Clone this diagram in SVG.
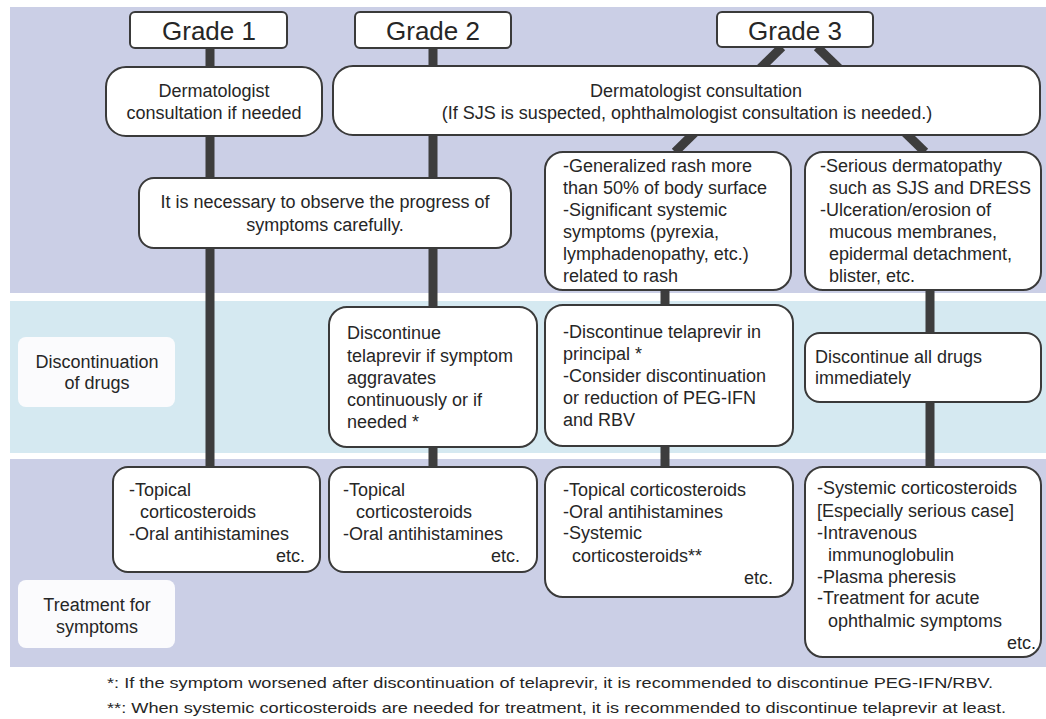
<svg xmlns="http://www.w3.org/2000/svg" width="1046" height="719" viewBox="0 0 1046 719">
<style>
text{font-family:"Liberation Sans",Arial,sans-serif;fill:#262626;font-size:18px}
.g{font-size:26px;text-anchor:middle}
.c{text-anchor:middle}
.r{text-anchor:end}
.fn{font-size:15px}
.box{fill:#fff;stroke:#3a3a3a;stroke-width:2}
.lbl{fill:#fbfbfd;stroke:none}
.con{stroke:#3d3d3d;stroke-width:9;fill:none}
</style>
<rect width="1046" height="719" fill="#fff"/>
<g id="bands">
<rect x="10" y="7" width="1036" height="286" fill="#cbcfe6"/>
<rect x="10" y="301" width="1036" height="152" fill="#d5e9f1"/>
<rect x="10" y="459" width="1036" height="208" fill="#cbcfe6"/>
</g>
<g id="connectors">
<line class="con" x1="210" y1="48" x2="210" y2="467"/>
<line class="con" x1="433" y1="48" x2="433" y2="467"/>
<line class="con" x1="782" y1="47" x2="675" y2="152"/>
<line class="con" x1="817" y1="47" x2="925" y2="152"/>
<line class="con" x1="665" y1="290" x2="665" y2="467"/>
<line class="con" x1="930" y1="290" x2="930" y2="467"/>
</g>
<g id="grade1"><rect class="box" x="130" y="12" width="157" height="36" rx="5"/><text class="g" x="209" y="40">Grade 1</text></g>
<g id="grade2"><rect class="box" x="355" y="12" width="156" height="36" rx="5"/><text class="g" x="433" y="40">Grade 2</text></g>
<g id="grade3"><rect class="box" x="717" y="12" width="156" height="35" rx="5"/><text class="g" x="795" y="40">Grade 3</text></g>
<g id="derm1"><rect class="box" x="106" y="67" width="216" height="69" rx="20"/>
<text class="c" x="214" y="97">Dermatologist</text><text class="c" x="214" y="119">consultation if needed</text></g>
<g id="derm23"><rect class="box" x="333" y="66" width="707" height="69" rx="20"/>
<text class="c" x="696" y="97">Dermatologist consultation</text><text class="c" x="687" y="119">(If SJS is suspected, ophthalmologist consultation is needed.)</text></g>
<g id="observe"><rect class="box" x="139" y="178" width="372" height="70" rx="15"/>
<text class="c" x="325" y="208">It is necessary to observe the progress of</text><text class="c" x="325" y="231">symptoms carefully.</text></g>
<g id="g3a"><rect class="box" x="545" y="152" width="246" height="138" rx="18"/>
<text x="563" y="172">-Generalized rash more</text><text x="563" y="194">than 50% of body surface</text><text x="563" y="216">-Significant systemic</text><text x="563" y="238">symptoms (pyrexia,</text><text x="563" y="260">lymphadenopathy, etc.)</text><text x="563" y="282">related to rash</text></g>
<g id="g3b"><rect class="box" x="805" y="152" width="236" height="138" rx="18"/>
<text x="820" y="172">-Serious dermatopathy</text><text x="829" y="194">such as SJS and DRESS</text><text x="820" y="216">-Ulceration/erosion of</text><text x="829" y="238">mucous membranes,</text><text x="829" y="260">epidermal detachment,</text><text x="829" y="282">blister, etc.</text></g>
<g id="label-disc"><rect class="lbl" x="18" y="337" width="157" height="70" rx="8"/>
<text class="c" x="97" y="368">Discontinuation</text><text class="c" x="97" y="389">of drugs</text></g>
<g id="disc2"><rect class="box" x="329" y="307" width="208" height="140" rx="18"/>
<text x="347" y="339">Discontinue</text><text x="347" y="362">telaprevir if symptom</text><text x="347" y="384">aggravates</text><text x="347" y="406">continuously or if</text><text x="347" y="428">needed *</text></g>
<g id="disc3a"><rect class="box" x="545" y="305" width="248" height="141" rx="18"/>
<text x="563" y="338">-Discontinue telaprevir in</text><text x="563" y="360">principal *</text><text x="563" y="382">-Consider discontinuation</text><text x="563" y="404">or reduction of PEG-IFN</text><text x="563" y="426">and RBV</text></g>
<g id="disc3b"><rect class="box" x="805" y="333" width="236" height="69" rx="15"/>
<text x="815" y="363">Discontinue all drugs</text><text x="815" y="384">immediately</text></g>
<g id="treat1"><rect class="box" x="113" y="467" width="207" height="105" rx="15"/>
<text x="129" y="496">-Topical</text><text x="140" y="518">corticosteroids</text><text x="129" y="540">-Oral antihistamines</text><text class="r" x="305" y="562">etc.</text></g>
<g id="treat2"><rect class="box" x="329" y="467" width="208" height="105" rx="15"/>
<text x="343" y="496">-Topical</text><text x="356" y="518">corticosteroids</text><text x="343" y="540">-Oral antihistamines</text><text class="r" x="520" y="562">etc.</text></g>
<g id="treat3a"><rect class="box" x="545" y="467" width="248" height="130" rx="18"/>
<text x="563" y="496">-Topical corticosteroids</text><text x="563" y="518">-Oral antihistamines</text><text x="563" y="539">-Systemic</text><text x="572" y="562">corticosteroids**</text><text class="r" x="773" y="584">etc.</text></g>
<g id="treat3b"><rect class="box" x="805" y="467" width="236" height="190" rx="18"/>
<text x="817" y="494">-Systemic corticosteroids</text><text x="817" y="517">[Especially serious case]</text><text x="817" y="539">-Intravenous</text><text x="828" y="561">immunoglobulin</text><text x="817" y="583">-Plasma pheresis</text><text x="817" y="604">-Treatment for acute</text><text x="828" y="627">ophthalmic symptoms</text><text class="r" x="1036" y="649">etc.</text></g>
<g id="label-treat"><rect class="lbl" x="18" y="580" width="157" height="68" rx="8"/>
<text class="c" x="97" y="611">Treatment for</text><text class="c" x="97" y="633">symptoms</text></g>
<g id="footnotes">
<text class="fn" x="107" y="688" textLength="886" lengthAdjust="spacingAndGlyphs">*: If the symptom worsened after discontinuation of telaprevir, it is recommended to discontinue PEG-IFN/RBV.</text>
<text class="fn" x="107" y="713" textLength="899" lengthAdjust="spacingAndGlyphs">**: When systemic corticosteroids are needed for treatment, it is recommended to discontinue telaprevir at least.</text>
</g>
</svg>
